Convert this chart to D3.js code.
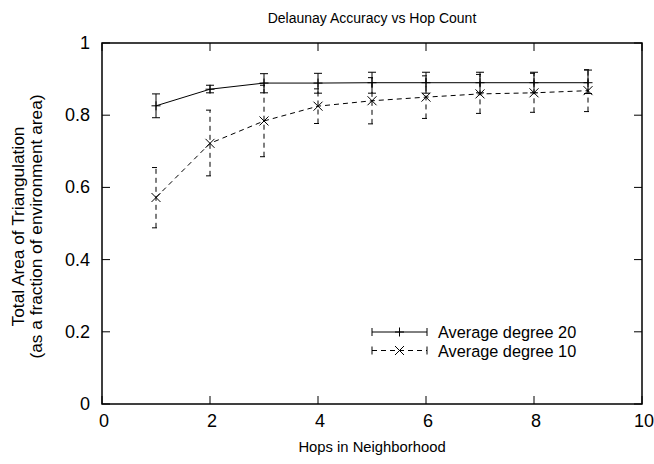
<!DOCTYPE html>
<html><head><meta charset="utf-8">
<script src="https://cdn.jsdelivr.net/npm/d3@7"></script>
<style>body{margin:0;background:#fff}svg{display:block}text{font-family:"Liberation Sans",Arial,sans-serif;fill:#000}</style>
</head><body>
<svg id="c" width="654" height="464"></svg>
<script>
const hops = [1,2,3,4,5,6,7,8,9];
const deg20 = [0.826,0.872,0.889,0.889,0.890,0.890,0.890,0.890,0.890];
const deg20Lo = [0.793,0.862,0.862,0.861,0.861,0.861,0.862,0.862,0.860];
const deg20Hi = [0.859,0.883,0.915,0.916,0.919,0.919,0.919,0.919,0.925];
const deg10 = [0.572,0.722,0.784,0.825,0.840,0.850,0.859,0.862,0.868];
const deg10Lo = [0.488,0.632,0.685,0.777,0.776,0.791,0.805,0.808,0.810];
const deg10Hi = [0.655,0.814,0.883,0.873,0.904,0.909,0.913,0.916,0.926];
const xTicks = [0,2,4,6,8,10];
const yTicks = [0,0.2,0.4,0.6,0.8,1];
const seriesNames = ["Average degree 20","Average degree 10"];

const svg = d3.select("#c");
const L=102,R=642,T=43,B=404;
const x = d3.scaleLinear().domain([0,10]).range([L,R]);
const y = d3.scaleLinear().domain([0,1]).range([B,T]);
const fsTick = 18, fsTitle = 14, fsX = 14.8, fsY = 17.3, fsKey = 16.3;

const tl = 8;
const g = svg.append("g").attr("stroke","#000").attr("stroke-width",1);
xTicks.forEach(t=>{
  g.append("line").attr("x1",x(t)).attr("x2",x(t)).attr("y1",B).attr("y2",B-tl);
  g.append("line").attr("x1",x(t)).attr("x2",x(t)).attr("y1",T).attr("y2",T+tl);
});
yTicks.forEach(t=>{
  g.append("line").attr("y1",y(t)).attr("y2",y(t)).attr("x1",L).attr("x2",L+tl);
  g.append("line").attr("y1",y(t)).attr("y2",y(t)).attr("x1",R).attr("x2",R-tl);
});
svg.append("rect").attr("x",L).attr("y",T).attr("width",R-L).attr("height",B-T)
  .attr("fill","none").attr("stroke","#000").attr("stroke-width",1.5);

svg.selectAll(".xl").data(xTicks).join("text").attr("x",d=>x(d)+2).attr("y",B+23)
  .attr("text-anchor","middle").attr("font-size",fsTick).text(d=>d);
svg.selectAll(".yl").data(yTicks).join("text").attr("x",L-12).attr("y",d=>y(d)+6)
  .attr("text-anchor","end").attr("font-size",fsTick).text(d=>d);

svg.append("text").attr("x",(L+R)/2).attr("y",23).attr("text-anchor","middle").attr("font-size",fsTitle)
  .text("Delaunay Accuracy vs Hop Count");
svg.append("text").attr("x",(L+R)/2).attr("y",B+48).attr("text-anchor","middle").attr("font-size",fsX)
  .text("Hops in Neighborhood");
const yl = svg.append("text").attr("transform",`translate(24,${(T+B)/2+3}) rotate(-90)`)
  .attr("text-anchor","middle").attr("font-size",fsY);
yl.append("tspan").attr("x",0).attr("dy",0).text("Total Area of Triangulation");
yl.append("tspan").attr("x",0).attr("dy",18).text("(as a fraction of environment area)");

const dash = "5,4";
const cap = 4;
function drawMarker(s,cx,cy,m){
  const r=4.5;
  if(m==="+"){
    s.append("line").attr("x1",cx-r).attr("x2",cx+r).attr("y1",cy).attr("y2",cy);
    s.append("line").attr("x1",cx).attr("x2",cx).attr("y1",cy-r).attr("y2",cy+r);
  } else {
    s.append("line").attr("x1",cx-r).attr("x2",cx+r).attr("y1",cy-r).attr("y2",cy+r);
    s.append("line").attr("x1",cx-r).attr("x2",cx+r).attr("y1",cy+r).attr("y2",cy-r);
  }
}
function series(vals, lo, hi, dashed, marker){
  const s = svg.append("g").attr("stroke","#000").attr("fill","none").attr("stroke-width",1);
  const line = d3.line().x((d,i)=>x(hops[i])).y(d=>y(d));
  s.append("path").attr("d",line(vals)).attr("stroke-dasharray",dashed?dash:null);
  hops.forEach((h,i)=>{
    const eb = s.append("g").attr("stroke-dasharray",dashed?dash:null);
    eb.append("line").attr("x1",x(h)).attr("x2",x(h)).attr("y1",y(lo[i])).attr("y2",y(hi[i]));
    eb.append("line").attr("x1",x(h)-cap).attr("x2",x(h)+cap).attr("y1",y(lo[i])).attr("y2",y(lo[i]));
    eb.append("line").attr("x1",x(h)-cap).attr("x2",x(h)+cap).attr("y1",y(hi[i])).attr("y2",y(hi[i]));
    drawMarker(s, x(h), y(vals[i]), marker);
  });
}
series(deg20,deg20Lo,deg20Hi,false,"+");
series(deg10,deg10Lo,deg10Hi,true,"x");

const lg = svg.append("g");
[[0,false,"+"],[1,true,"x"]].forEach(([i,dashed,m])=>{
  const ly = 332 + i*18.5;
  const a=372,b=427;
  const s = lg.append("g").attr("stroke","#000").attr("stroke-width",1).attr("fill","none");
  s.append("line").attr("x1",a).attr("x2",b).attr("y1",ly).attr("y2",ly).attr("stroke-dasharray",dashed?dash:null);
  s.append("line").attr("x1",a).attr("x2",a).attr("y1",ly-cap).attr("y2",ly+cap);
  s.append("line").attr("x1",b).attr("x2",b).attr("y1",ly-cap).attr("y2",ly+cap);
  drawMarker(s,(a+b)/2,ly,m);
  lg.append("text").attr("x",438).attr("y",ly+6).attr("font-size",fsKey).text(seriesNames[i]);
});
</script>
</body></html>
